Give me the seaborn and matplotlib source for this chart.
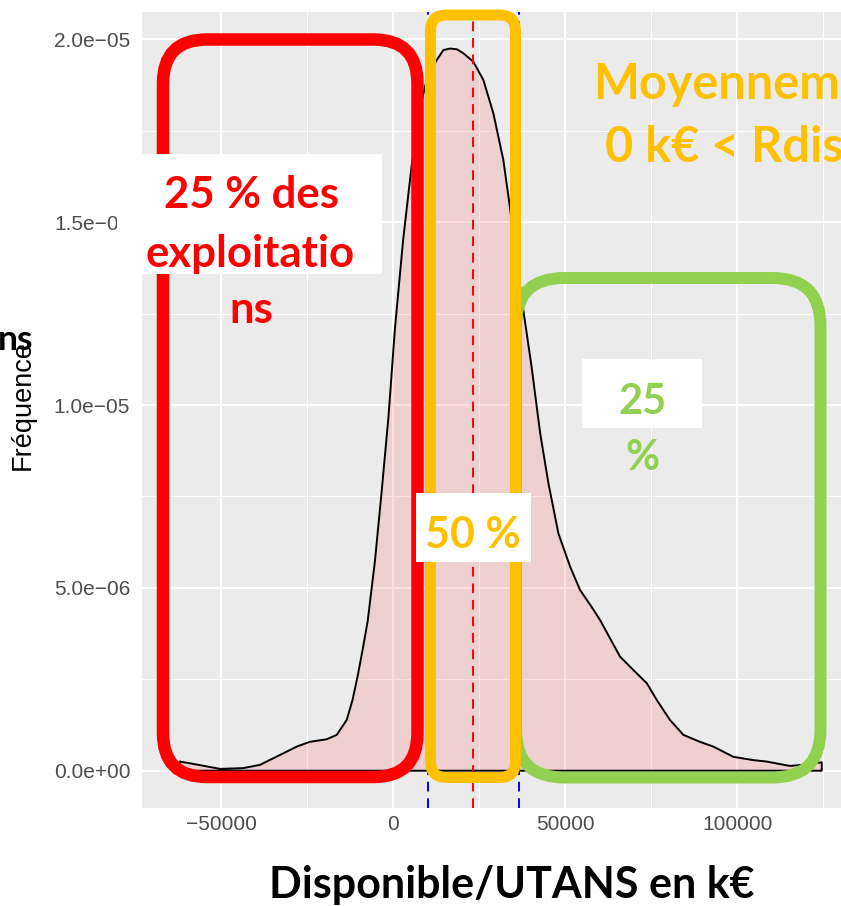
import numpy as np
import seaborn as sns
import matplotlib.pyplot as plt
from matplotlib.patches import FancyBboxPatch, Rectangle

# density of "Disponible/UTANS" (x in euros, y in 1e-6)
dens_x = [-61900, -56600, -50300, -43600, -38700, -32900, -28000, -24200,
          -19300, -16400, -13500, -11800, -10300, -8900, -7400, -5300, -3300,
          -1400, 500, 2900, 5400, 7700, 10000, 12600, 14600, 16500, 18500,
          20400, 23300, 26200, 29100, 32000, 33900, 35800, 37800, 40200, 42700,
          45100, 48000, 51400, 54300, 57500, 60100, 65900, 69800, 73700, 76600,
          80400, 84300, 89100, 93000, 98800, 104600, 108500, 115300, 120000,
          124500]
dens_y_e6 = [0.25, 0.16, 0.05, 0.07, 0.16, 0.43, 0.66, 0.79, 0.86, 0.98, 1.39,
             1.94, 2.6, 3.3, 4.1, 5.74, 7.69, 9.65, 12.09, 14.53, 16.58, 18.1,
             19.0, 19.43, 19.71, 19.75, 19.73, 19.62, 19.39, 18.89, 17.98, 16.70,
             15.42, 14.0, 12.6, 11.05, 9.23, 7.86, 6.49, 5.58, 4.94, 4.5, 4.12,
             3.12, 2.75, 2.39, 1.93, 1.39, 0.98, 0.79, 0.66, 0.38, 0.29, 0.25,
             0.13, 0.17, 0.23]

mean_value = 23180
quartiles = [10110, 36550]

x_ticks = [-50000, 0, 50000, 100000]
x_tick_labels = ["\u221250000", "0", "50000", "100000"]
x_minor = [-25000, 25000, 75000, 125000]
y_ticks = [0, 5e-6, 1e-5, 1.5e-5, 2e-5]
y_tick_labels = ["0.0e+00", "5.0e\u221206", "1.0e\u221205", "1.5e\u221205", "2.0e\u221205"]
y_minor = [2.5e-6, 7.5e-6, 1.25e-5, 1.75e-5]

RED = "#FF0000"
ORANGE = "#FFC000"
GREEN = "#92D050"

W, H, DPI = 841, 906, 100

sns.set_theme(style="darkgrid")
plt.rcParams['font.family'] = ['Liberation Sans', 'DejaVu Sans']
BOLD = ['Lato', 'DejaVu Sans']

fig = plt.figure(figsize=(W / DPI, H / DPI), dpi=DPI)
ax = fig.add_axes([142 / W, (H - 808) / H, (W - 142) / W, (808 - 12) / H])
ax.set_facecolor("#EBEBEB")

xs = np.array(dens_x, dtype=float)
ys = np.array(dens_y_e6) * 1e-6

ax.fill_between(xs, ys, 0, color="#FF6666", alpha=0.2, lw=0, zorder=2)
# closed outline like geom_density
out_x = np.concatenate([xs, [xs[-1], xs[0], xs[0]]])
out_y = np.concatenate([ys, [0, 0, ys[0]]])
sns.lineplot(x=out_x, y=out_y, sort=False, estimator=None, color="black",
             lw=1.4, ax=ax, zorder=3)

ax.axvline(mean_value, color="red", lw=1.4, ls=(0, (5, 3.5)), zorder=4)
for q in quartiles:
    ax.axvline(q, color="blue", lw=1.4, ls=(0, (5, 3.5)), zorder=4)

ax.set_xlim(-72980, 130100)
ax.set_ylim(-1.02e-6, 2.075e-5)
ax.set_xticks(x_ticks)
ax.set_xticklabels(x_tick_labels)
ax.set_yticks(y_ticks)
ax.set_yticklabels(y_tick_labels)
ax.set_xticks(x_minor, minor=True)
ax.set_yticks(y_minor, minor=True)
ax.grid(which="major", color="white", lw=1.5)
ax.grid(which="minor", color="white", lw=0.75)
ax.set_axisbelow(True)
for s in ax.spines.values():
    s.set_visible(False)
ax.tick_params(which="major", length=4, width=1.4, color="#333333",
               labelsize=15, labelcolor="#4D4D4D")
ax.tick_params(axis="x", pad=1)
ax.tick_params(axis="y", pad=4.5)
ax.tick_params(which="minor", length=0)
ax.set_xlabel("")
ax.set_ylabel("")


def ptxt(x, y, s, **kw):
    fig.text(x / W, 1 - y / H, s, va="baseline", **kw)


def pbox(x0, y0, x1, y1, r, color, lw, z):
    fig.add_artist(FancyBboxPatch(
        (x0 / DPI, (H - y1) / DPI), (x1 - x0) / DPI, (y1 - y0) / DPI,
        boxstyle=f"round,pad=0,rounding_size={r / DPI}",
        transform=fig.dpi_scale_trans, fill=False, ec=color, lw=lw, zorder=z))


def pwhite(x0, y0, x1, y1):
    fig.add_artist(Rectangle(
        (x0 / DPI, (H - y1) / DPI), (x1 - x0) / DPI, (y1 - y0) / DPI,
        transform=fig.dpi_scale_trans, fc="white", ec="none", zorder=6))


# axis titles
fig.text(23 / W, 1 - 405 / H, "Fréquence", rotation=90, ha="center",
         va="center", fontsize=19.5, color="black", zorder=3)
ptxt(512, 898, "Disponible/UTANS en k€", ha="center", fontsize=31,
     fontweight="bold", family=BOLD, color="black", zorder=7)
ptxt(33, 350, "ns", ha="right", fontsize=25.5, fontweight="bold",
     family=BOLD, color="black", zorder=7)

# slide overlay boxes
pbox(163, 39.5, 417.5, 777, 44, RED, 9, 3)
pbox(516, 278, 820.5, 777.5, 48, GREEN, 8.6, 4)
pbox(430.5, 15, 515.5, 777.5, 16, ORANGE, 7.9, 5)

pwhite(117, 154, 382, 274)
pwhite(582, 359, 702, 428)
pwhite(415.5, 493, 531, 562)

txt = dict(fontweight="bold", family=BOLD, zorder=7)
ptxt(251, 208, "25 % des", ha="center", color=RED, fontsize=31.5, **txt)
ptxt(250.5, 267, "exploitatio", ha="center", color=RED, fontsize=31.5, **txt)
ptxt(251.5, 323, "ns", ha="center", color=RED, fontsize=31.5, **txt)
ptxt(593, 99, "Moyennem", ha="left", color=ORANGE, fontsize=35, **txt)
ptxt(605, 162, "0 k€ < Rdis", ha="left", color=ORANGE, fontsize=35, **txt)
ptxt(642, 414, "25", ha="center", color=GREEN, fontsize=30, **txt)
ptxt(642, 470, "%", ha="center", color=GREEN, fontsize=30, **txt)
ptxt(472.5, 548, "50 %", ha="center", color=ORANGE, fontsize=31, **txt)

fig.savefig("out.png", dpi=DPI)
